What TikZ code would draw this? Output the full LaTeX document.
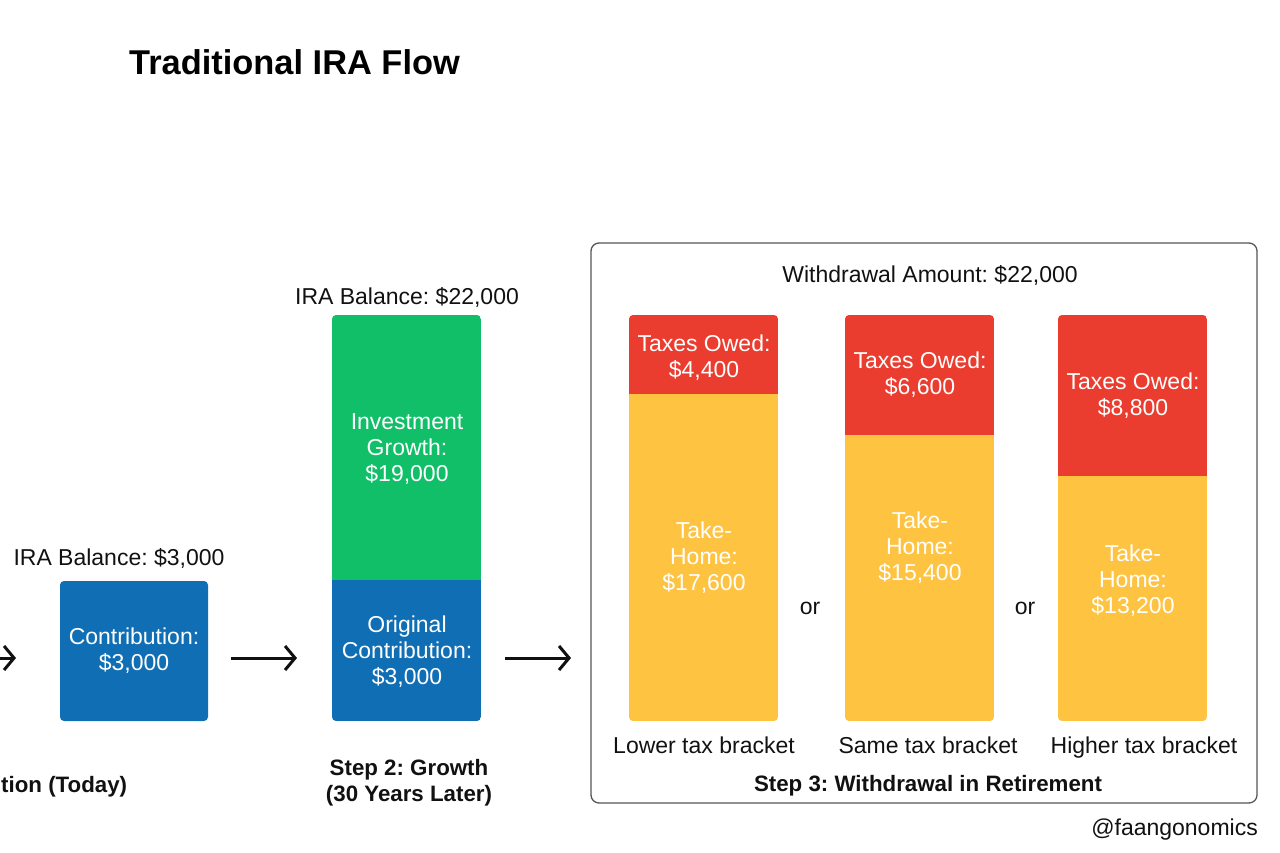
\documentclass[tikz,border=0pt]{standalone}
\usepackage{fontspec}
\setmainfont{Liberation Sans}
\usetikzlibrary{arrows.meta}
\definecolor{iblue}{RGB}{16,110,180}
\definecolor{igreen}{RGB}{16,191,104}
\definecolor{ired}{RGB}{234,61,47}
\definecolor{iyellow}{RGB}{255,195,66}
\definecolor{iframe}{RGB}{85,85,85}
\definecolor{itext}{RGB}{17,17,17}
\newcommand{\stackedbar}[7]{%
  \begin{scope}
    \clip[rounded corners=4pt] (#1,#3) rectangle (#2,#5);
    \fill[#6] (#1,#3) rectangle (#2,#4);
    \fill[#7] (#1,#4) rectangle (#2,#5);
  \end{scope}}
\frenchspacing
\begin{document}
\begin{tikzpicture}[x=1pt,y=-1pt,
  txt/.style={font=\fontsize{23}{26}\selectfont, inner sep=0pt, text=itext},
  boxtxt/.style={font=\fontsize{23}{26}\selectfont, inner sep=0pt, text=white, align=center},
  boldtxt/.style={font=\fontsize{22.3}{26}\selectfont\bfseries, inner sep=0pt, align=center, text=itext},
  flow/.style={line width=3pt, draw=itext, -{Straight Barb[length=10pt,width=24pt]}},
  ]
\path[use as bounding box] (0,0) rectangle (1280,853);
\clip (0,0) rectangle (1280,853);

% title
\node[font=\fontsize{34.4}{40}\selectfont\bfseries, inner sep=0pt, anchor=base west] (title) at (129,75) {Traditional IRA Flow};

% step 1 (partially visible)
\coordinate (a0s) at (-50,658);
\coordinate (a0e) at (16,658);
\draw[flow] (a0s) -- (a0e);
\node[boldtxt, anchor=base west] (step1) at (1,792) {tion (Today)};
\fill[iblue, rounded corners=4pt] (60,581) rectangle (208,721);
\node[boxtxt] (contrib) at (134,651) {Contribution:\\\$3,000};
\node[txt, anchor=base] (bal1) at (119,565) {IRA Balance: \$3,000};

% arrow 1
\coordinate (a1s) at (231,658);
\coordinate (a1e) at (297,658);
\draw[flow] (a1s) -- (a1e);

% step 2
\stackedbar{332}{481}{315}{580}{721}{igreen}{iblue}
\node[txt, anchor=base] (bal2) at (407,304) {IRA Balance: \$22,000};
\node[boxtxt] (growth) at (407,449) {Investment\\Growth:\\\$19,000};
\node[boxtxt] (orig) at (407,652) {Original\\Contribution:\\\$3,000};
\node[boldtxt] (step2) at (409,783) {Step 2: Growth\\(30 Years Later)};

% arrow 2
\coordinate (a2s) at (505,658);
\coordinate (a2e) at (571,658);
\draw[flow] (a2s) -- (a2e);

% step 3
\draw[iframe, line width=1.3pt, rounded corners=8pt] (591,243) rectangle (1257,803);
\node[txt, anchor=base] (wd) at (930,283) {Withdrawal Amount: \$22,000};

\stackedbar{629}{778}{315}{394}{721}{ired}{iyellow}
\stackedbar{845}{994}{315}{435}{721}{ired}{iyellow}
\stackedbar{1058}{1207}{315}{476}{721}{ired}{iyellow}

\node[boxtxt] (tax1) at (704,358) {Taxes Owed:\\\$4,400};
\node[boxtxt] (home1) at (704,558) {Take-\\Home:\\\$17,600};
\node[boxtxt] (tax2) at (920,375) {Taxes Owed:\\\$6,600};
\node[boxtxt] (home2) at (920,548) {Take-\\Home:\\\$15,400};
\node[boxtxt] (tax3) at (1133,396) {Taxes Owed:\\\$8,800};
\node[boxtxt] (home3) at (1133,581) {Take-\\Home:\\\$13,200};

\node[txt, anchor=base] (or1) at (810,614) {or};
\node[txt, anchor=base] (or2) at (1025,614) {or};

\node[txt, anchor=base] (lb1) at (704,753) {Lower tax bracket};
\node[txt, anchor=base] (lb2) at (928,753) {Same tax bracket};
\node[txt, anchor=base] (lb3) at (1144,753) {Higher tax bracket};
\node[boldtxt, anchor=base] (step3) at (928,791) {Step 3: Withdrawal in Retirement};

\node[txt, anchor=base east] (credit) at (1258,835) {@faangonomics};
\end{tikzpicture}
\end{document}
